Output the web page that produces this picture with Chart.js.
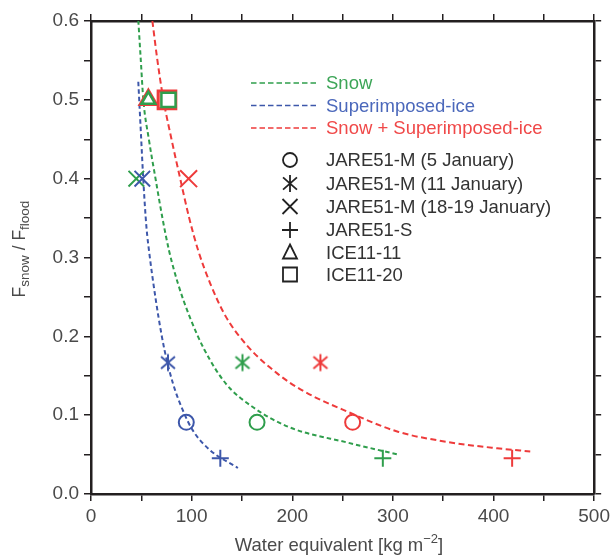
<!DOCTYPE html>
<html>
<head>
<meta charset="utf-8">
<script src="https://cdn.jsdelivr.net/npm/chart.js@4.4.1/dist/chart.umd.min.js"></script>
<style>
  body { margin: 0; background: #ffffff; }
  #wrap { width: 614px; height: 555px; }
</style>
</head>
<body>
<div id="wrap"><canvas id="fractionChart" width="614" height="555"></canvas></div>
<script>
// Sites, in the order of the symbol key
const sites = ['JARE51-M (5 January)', 'JARE51-M (11 January)', 'JARE51-M (18-19 January)', 'JARE51-S', 'ICE11-11', 'ICE11-20'];
// Fsnow / Fflood for each site
const fraction = [0.0909, 0.1667, 0.4, 0.0455, 0.5, 0.5];
// Water equivalent [kg m-2] per component
const snowWE = [165, 150.5, 45, 290, 57, 77];
const siceWE = [94.7, 76.5, 51, 128.5, null, null];
const totalWE = [260, 228, 97, 418.5, 57, 75.5];

// Fitted curves (water equivalent, fraction)
const snowCurveX = [47, 49.5, 52, 57.5, 64.4, 71, 77.5, 86.4, 98, 112.7, 134, 160, 196.5, 255.7, 305];
const snowCurveY = [0.601, 0.55, 0.5, 0.45, 0.398, 0.35, 0.309, 0.267, 0.225, 0.183, 0.14, 0.111, 0.085, 0.065, 0.05];
const siceCurveX = [47, 49.5, 52, 55, 58.5, 62, 67, 73, 81.5, 91, 101, 118, 146];
const siceCurveY = [0.523, 0.46, 0.398, 0.34, 0.3, 0.267, 0.225, 0.183, 0.14, 0.107, 0.081, 0.056, 0.033];
const totalCurveX = [61, 66, 72, 80, 89, 97.6, 106.5, 118.5, 134, 156, 185, 210.5, 255.7, 305, 354.4, 403.6, 436.5];
const totalCurveY = [0.6, 0.55, 0.5, 0.45, 0.398, 0.35, 0.309, 0.267, 0.225, 0.187, 0.153, 0.131, 0.104, 0.079, 0.066, 0.058, 0.054];

// Axis ticks
const xTicks = [0, 100, 200, 300, 400, 500];
const yTicks = [0.0, 0.1, 0.2, 0.3, 0.4, 0.5, 0.6];

const GREEN = '#2f9e4c';
const BLUE = '#3d57aa';
const RED = '#ee3b3b';
const AXIS = '#231f20';
const TEXT = '#4a4a4a';
const FONT = '"Liberation Sans", Arial, sans-serif';

// six-armed asterisk used for the 11 January survey
function makeAsterisk(color) {
    const c = document.createElement('canvas');
    c.width = 20; c.height = 20;
    const g = c.getContext('2d');
    g.strokeStyle = color;
    g.lineWidth = 2;
    drawAsterisk(g, 10, 10, 8.5);
    return c;
}

function drawAsterisk(g, x, y, r) {
    const dx = r * 0.82, dy = r * 0.72;
    g.beginPath();
    g.moveTo(x, y - r); g.lineTo(x, y + r);
    g.moveTo(x - dx, y - dy); g.lineTo(x + dx, y + dy);
    g.moveTo(x + dx, y - dy); g.lineTo(x - dx, y + dy);
    g.stroke();
}

function points(xs, ys) {
    return xs.map((x, i) => ({ x: x, y: ys[i] }));
}

function curve(xs, ys, color, dash) {
    return {
        data: points(xs, ys),
        showLine: true,
        borderColor: color,
        borderWidth: 2,
        borderDash: dash,
        pointRadius: 0,
        fill: false,
        cubicInterpolationMode: 'monotone',
        order: 5
    };
}

function markers(xs, color, order, opts) {
    return {
        data: points(xs, fraction),
        showLine: false,
        pointStyle: ['circle', makeAsterisk(color), 'crossRot', 'cross', 'triangle', 'rect'],
        pointRadius: opts.radius,
        pointBorderColor: color,
        pointBackgroundColor: opts.fill,
        pointBorderWidth: opts.width,
        order: order
    };
}

const datasets = [
    curve(totalCurveX, totalCurveY, RED, [6, 3.5]),
    curve(snowCurveX, snowCurveY, GREEN, [4.5, 3]),
    curve(siceCurveX, siceCurveY, BLUE, [4.5, 3]),
    markers(totalWE, RED, 3, {
        radius: [7.5, 10, 12, 8.5, 9.5, 12.5],
        width: [2, 2, 2, 2, 3, 3],
        fill: ['#fff', '#fff', '#fff', '#fff', 'rgba(255,255,255,0)', 'rgba(240,70,70,0.35)']
    }),
    markers(snowWE, GREEN, 2, {
        radius: [7.5, 10, 11, 8.5, 8, 10],
        width: [2, 2, 2, 2, 2.5, 2.5],
        fill: ['#fff', '#fff', '#fff', '#fff', 'rgba(255,255,255,0)', '#fff']
    }),
    markers(siceWE, BLUE, 1, {
        radius: [7.5, 10, 11, 8.5, 8, 10],
        width: [2, 2, 2, 2, 2, 2],
        fill: ['rgba(255,255,255,0)', '#fff', '#fff', '#fff', '#fff', '#fff']
    })
];

function sameTicks(list) {
    return v => list.some(t => Math.abs(t - v) < 1e-6) ? (list === yTicks ? v.toFixed(1) : String(v)) : '';
}

function frame(position, size, labels) {
    const horizontal = position === 'top' || position === 'bottom';
    return {
        type: 'linear',
        position: position,
        min: 0,
        max: horizontal ? 500 : 0.6,
        ticks: {
            stepSize: horizontal ? 50 : 0.05,
            autoSkip: false,
            maxRotation: 0,
            color: TEXT,
            padding: horizontal ? 4 : 5,
            font: { family: FONT, size: 19 },
            callback: labels ? sameTicks(horizontal ? xTicks : yTicks) : () => ''
        },
        grid: { drawOnChartArea: false, tickLength: 7, color: AXIS, lineWidth: 1.5 },
        border: { color: AXIS, width: 2.5 },
        afterFit: s => { if (horizontal) s.height = size; else s.width = size; }
    };
}

// key, axis titles
const annotations = {
    id: 'annotations',
    afterDraw(chart) {
        const c = chart.ctx;
        c.save();

        // line key
        const lines = [
            ['Snow', GREEN, '#3ca557', 83],
            ['Superimposed-ice', BLUE, '#4b68bb', 105.5],
            ['Snow + Superimposed-ice', RED, '#f04848', 128]
        ];
        c.font = '18.5px ' + FONT;
        c.textBaseline = 'middle';
        lines.forEach(([label, col, txt, y]) => {
            c.strokeStyle = col;
            c.lineWidth = 1.5;
            c.setLineDash([5.5, 3]);
            c.beginPath();
            c.moveTo(251, y); c.lineTo(319, y);
            c.stroke();
            c.setLineDash([]);
            c.fillStyle = txt;
            c.fillText(label, 326, y + 1);
        });

        // symbol key
        const rows = [160, 183.5, 206.5, 230, 252.5, 274.5];
        c.strokeStyle = '#222';
        c.lineWidth = 1.8;
        rows.forEach((y, i) => {
            const x = 290;
            c.beginPath();
            if (i === 0) {
                c.arc(x, y, 7, 0, Math.PI * 2);
                c.stroke();
            } else if (i === 1) {
                drawAsterisk(c, x, y, 8.5);
            } else if (i === 2) {
                c.moveTo(x - 7.5, y - 7.5); c.lineTo(x + 7.5, y + 7.5);
                c.moveTo(x + 7.5, y - 7.5); c.lineTo(x - 7.5, y + 7.5);
                c.stroke();
            } else if (i === 3) {
                c.moveTo(x - 8, y); c.lineTo(x + 8, y);
                c.moveTo(x, y - 8); c.lineTo(x, y + 8);
                c.stroke();
            } else if (i === 4) {
                c.moveTo(x, y - 8); c.lineTo(x + 7, y + 6); c.lineTo(x - 7, y + 6);
                c.closePath();
                c.stroke();
            } else {
                c.rect(x - 7, y - 7, 14, 14);
                c.stroke();
            }
            c.fillStyle = '#333';
            c.fillText(sites[i], 326, y + 1);
        });

        // x title with superscript
        c.fillStyle = TEXT;
        c.textBaseline = 'alphabetic';
        c.font = '18.5px ' + FONT;
        const base = 'Water equivalent [kg m';
        const sup = '\u22122';
        const wBase = c.measureText(base).width;
        c.font = '13px ' + FONT;
        const wSup = c.measureText(sup).width;
        c.font = '18.5px ' + FONT;
        const wEnd = c.measureText(']').width;
        let x0 = 339 - (wBase + wSup + wEnd) / 2;
        c.fillText(base, x0, 551);
        c.font = '13px ' + FONT;
        c.fillText(sup, x0 + wBase, 543);
        c.font = '18.5px ' + FONT;
        c.fillText(']', x0 + wBase + wSup, 551);

        // y title with subscripts
        c.translate(25, 249);
        c.rotate(-Math.PI / 2);
        const parts = [['F', 17.5, 0], ['snow', 13.5, 4], [' / F', 17.5, 0], ['flood', 13.5, 4]];
        let total = 0;
        parts.forEach(p => { c.font = p[1] + 'px ' + FONT; total += c.measureText(p[0]).width; });
        let px = -total / 2;
        parts.forEach(p => {
            c.font = p[1] + 'px ' + FONT;
            c.fillText(p[0], px, p[2]);
            px += c.measureText(p[0]).width;
        });
        c.restore();
    }
};

const ctx = document.getElementById('fractionChart').getContext('2d');
const fractionChart = new Chart(ctx, {
    type: 'scatter',
    data: { datasets: datasets },
    options: {
        responsive: false,
        animation: false,
        layout: { padding: 0 },
        plugins: {
            legend: { display: false },
            tooltip: { enabled: false }
        },
        scales: {
            x: frame('bottom', 61, true),
            x2: frame('top', 21, false),
            y: frame('left', 91, true),
            y2: frame('right', 16, false)
        }
    },
    plugins: [annotations]
});
</script>
</body>
</html>
